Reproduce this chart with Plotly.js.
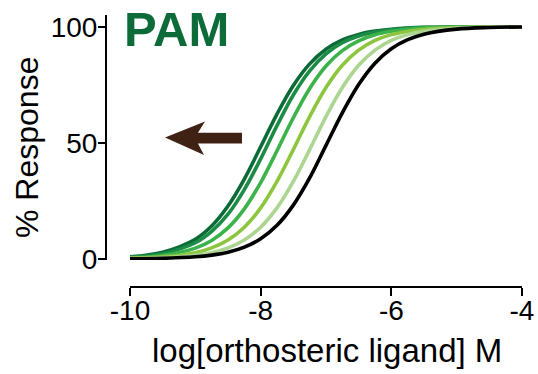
<!DOCTYPE html>
<html>
<head>
<meta charset="utf-8">
<script src="https://cdn.plot.ly/plotly-3.0.1.min.js"></script>
<style>html,body{margin:0;padding:0;background:#fff;}#chart{width:538px;height:374px;}</style>
</head>
<body>
<div id="chart"></div>
<script>
// log[orthosteric ligand] M
const logConc = [-10, -9.5, -9, -8.75, -8.5, -8.25, -8, -7.75, -7.5, -7.25, -7, -6.75, -6.5, -6.25, -6, -5.75, -5.5, -5, -4.5, -4];

// % Response, one series per curve
const respDarkest = [0.9, 2.9, 8.5, 14.2, 22.8, 34.4, 48.3, 62.4, 74.7, 84.0, 90.3, 94.3, 96.7, 98.1, 98.9, 99.4, 99.7, 99.9, 99.97, 99.99];
const respDark    = [0.75, 2.3, 7.0, 11.9, 19.3, 29.9, 43.1, 57.4, 70.6, 81.0, 88.3, 93.1, 96.0, 97.7, 98.7, 99.3, 99.6, 99.87, 99.96, 99.99];
const respMid     = [0.5, 1.5, 4.7, 8.0, 13.4, 21.6, 32.9, 46.6, 60.8, 73.4, 83.1, 89.7, 93.9, 96.5, 98.0, 98.9, 99.4, 99.8, 99.94, 99.98];
const respYellow  = [0.28, 0.9, 2.7, 4.8, 8.2, 13.7, 22.0, 33.4, 47.1, 61.3, 73.8, 83.4, 89.9, 94.1, 96.6, 98.0, 98.9, 99.65, 99.9, 99.97];
const respLight   = [0.16, 0.5, 1.56, 2.74, 4.8, 8.2, 13.7, 22.0, 33.4, 47.1, 61.3, 73.8, 83.4, 89.9, 94.1, 96.6, 98.0, 99.4, 99.8, 99.94];
const respControl = [0.1, 0.3, 0.95, 1.67, 2.9, 5.1, 8.7, 14.5, 23.2, 34.9, 48.9, 62.9, 75.1, 84.3, 90.5, 94.4, 96.8, 98.96, 99.67, 99.9];

const xTickVals = [-10, -8, -6, -4];
const xTickText = ['-10', '-8', '-6', '-4'];
const yTickVals = [0, 50, 100];
const yTickText = ['0', '50', '100'];

const seriesList = [
  {y: respDarkest, color: '#0b6a36'},
  {y: respDark,    color: '#1b8c45'},
  {y: respMid,     color: '#3bb34a'},
  {y: respYellow,  color: '#8cc63f'},
  {y: respLight,   color: '#abd590'},
  {y: respControl, color: '#000000'}
];

const W = 538, H = 374;
const FONT = 'Liberation Sans, Arial, Helvetica, sans-serif';

const traces = seriesList.map(s => ({
  type: 'scatter', mode: 'lines', x: logConc, y: s.y,
  line: {color: s.color, width: 3.6, shape: 'spline', smoothing: 1},
  hoverinfo: 'skip', showlegend: false
}));

const layout = {
  width: W, height: H,
  margin: {l: 0, r: 0, t: 0, b: 0},
  paper_bgcolor: '#ffffff', plot_bgcolor: '#ffffff',
  showlegend: false,
  font: {family: FONT, color: '#000'},
  xaxis: {
    domain: [130 / W, 522 / W],
    range: [-10, -4],
    anchor: 'free', position: 1 - 287 / H,
    showline: true, linecolor: '#000', linewidth: 2,
    showgrid: false, zeroline: false,
    ticks: 'outside', ticklen: 8, tickwidth: 2, tickcolor: '#000',
    ticklabelstandoff: -10,
    tickmode: 'array', tickvals: xTickVals, ticktext: xTickText,
    tickfont: {family: FONT, size: 28, color: '#000'}
  },
  yaxis: {
    domain: [1 - 260 / H, 1 - 15 / H],
    range: [-0.43, 105.04],
    anchor: 'free', position: 106 / W,
    showline: true, linecolor: '#000', linewidth: 2,
    showgrid: false, zeroline: false,
    ticks: 'outside', ticklen: 7, tickwidth: 2, tickcolor: '#000',
    ticklabelstandoff: -5,
    tickmode: 'array', tickvals: yTickVals, ticktext: yTickText,
    tickfont: {family: FONT, size: 28, color: '#000'}
  },
  annotations: [
    {text: 'PAM', xref: 'paper', yref: 'paper', x: 122 / W, y: 1 - 29.5 / H,
     xanchor: 'left', yanchor: 'middle', showarrow: false,
     font: {family: FONT, size: 49, color: '#0d6b3a', weight: 'bold'}},
    {text: 'log[orthosteric ligand] M', xref: 'paper', yref: 'paper', x: 327 / W, y: 1 - 350 / H,
     xanchor: 'center', yanchor: 'middle', showarrow: false,
     font: {family: FONT, size: 33, color: '#000'}},
    {text: '% Response', xref: 'paper', yref: 'paper', x: 27 / W, y: 1 - 148 / H,
     xanchor: 'center', yanchor: 'middle', showarrow: false, textangle: -90,
     font: {family: FONT, size: 32, color: '#000'}}
  ],
  shapes: [
    {type: 'path', xref: 'x', yref: 'y', layer: 'above',
     path: 'M -9.464,52.3 L -8.852,59.2 L -8.96,54.4 L -8.286,54.4 L -8.286,49.7 L -8.96,49.7 L -8.867,44.8 Z',
     fillcolor: '#3f2213', line: {width: 0}}
  ]
};

Plotly.newPlot('chart', traces, layout, {staticPlot: true, displayModeBar: false});
</script>
</body>
</html>
